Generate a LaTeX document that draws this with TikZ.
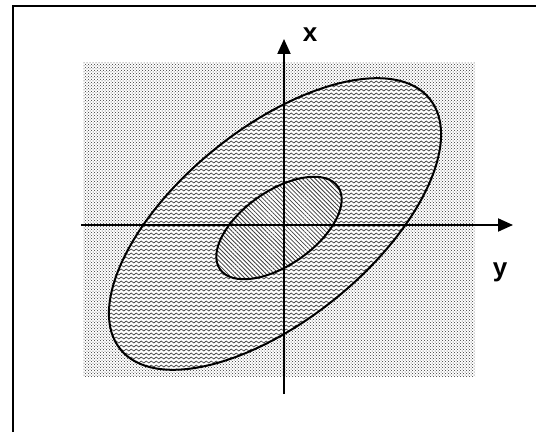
\documentclass[tikz,border=0pt]{standalone}
\usepackage{fontspec}
\setmainfont{Liberation Sans}
\usepackage{tikz}
\usetikzlibrary{arrows.meta, patterns, patterns.meta}

\pgfdeclarepatternformonly{wavylines}{\pgfpoint{-1pt}{-1pt}}{\pgfpoint{6pt}{5pt}}{\pgfpoint{5pt}{4pt}}{
  \pgfsetlinewidth{0.7pt}
  \pgfpathmoveto{\pgfpoint{0pt}{2pt}}
  \pgfpathsine{\pgfpoint{1.25pt}{1pt}}
  \pgfpathcosine{\pgfpoint{1.25pt}{-1pt}}
  \pgfpathsine{\pgfpoint{1.25pt}{-1pt}}
  \pgfpathcosine{\pgfpoint{1.25pt}{1pt}}
  \pgfusepath{stroke}
}

\begin{document}
\begin{tikzpicture}[x=1pt, y=1pt, >={Triangle[length=15pt, width=13pt]},
    axis/.style={line width=2pt, ->},
    lbl/.style={font=\fontsize{26}{30}\selectfont\bfseries, inner sep=0pt},
    bg/.style={pattern=crosshatch dots, pattern color=black!80},
    outer/.style={line width=2pt, pattern=wavylines, pattern color=black!75},
    inner/.style={line width=2pt, pattern={Lines[angle=-45, distance=3pt, line width=0.8pt]}, pattern color=black!75}]
  \useasboundingbox (0,0) rectangle (536,432);
  % frame (open at right and bottom)
  \draw[line width=2pt] (12.5,0) -- (12.5,426) -- (536,426);
  % shaded background
  \fill[bg] (83,56) rectangle (475,369);
  % ellipses
  \fill[white] (275,208) ellipse [x radius=199, y radius=96, rotate=39];
  \draw[outer] (275,208) ellipse [x radius=199, y radius=96, rotate=39];
  \fill[white] (279,204) ellipse [x radius=72, y radius=37, rotate=35];
  \draw[inner] (279,204) ellipse [x radius=72, y radius=37, rotate=35];
  % axes
  \coordinate (vb) at (284,38);
  \coordinate (vt) at (284,393);
  \coordinate (hl) at (81,207);
  \coordinate (hr) at (513,207);
  \draw[axis] (vb) -- (vt);
  \draw[axis] (hl) -- (hr);
  \node[lbl] (xl) at (310,397) {x};
  \node[lbl] (yl) at (500,160) {y};
\end{tikzpicture}
\end{document}
